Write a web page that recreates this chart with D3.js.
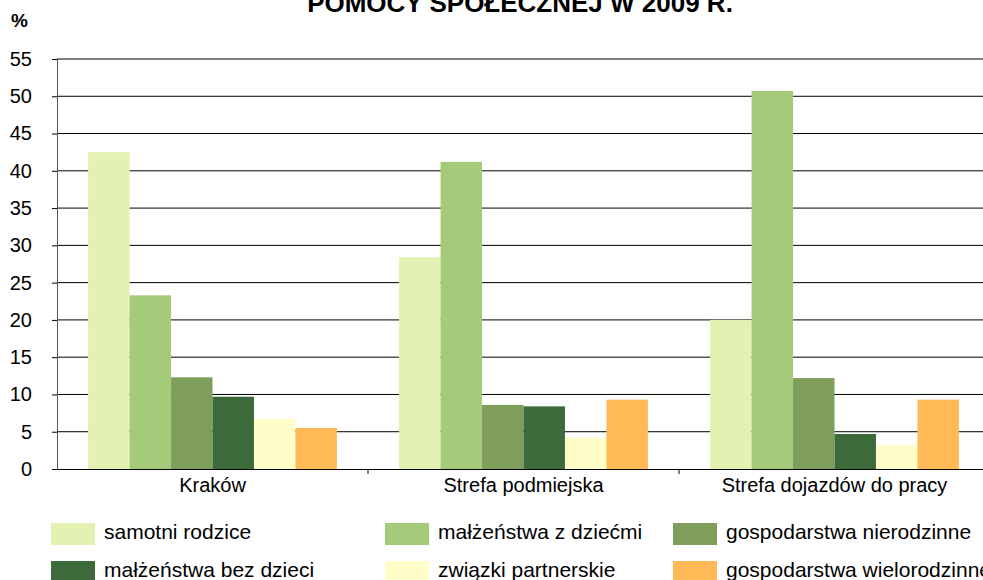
<!DOCTYPE html>
<html>
<head>
<meta charset="utf-8">
<script src="https://cdn.jsdelivr.net/npm/d3@7"></script>
<style>
  body { margin: 0; background: #fff; }
  svg { display: block; font-family: "Liberation Sans", Arial, sans-serif; }
</style>
</head>
<body>
<div id="chart"></div>
<script>
const categories = ["Kraków", "Strefa podmiejska", "Strefa dojazdów do pracy"];
const seriesNames = ["samotni rodzice", "małżeństwa z dziećmi", "gospodarstwa nierodzinne",
  "małżeństwa bez dzieci", "związki partnerskie", "gospodarstwa wielorodzinne"];
const samotniRodzice = [42.5, 28.4, 20.0];
const malzenstwaZDziecmi = [23.3, 41.2, 50.7];
const gospNierodzinne = [12.3, 8.6, 12.2];
const malzenstwaBezDzieci = [9.7, 8.4, 4.7];
const zwiazkiPartnerskie = [6.7, 4.2, 3.2];
const gospWielorodzinne = [5.5, 9.3, 9.3];
const yTicks = [0, 5, 10, 15, 20, 25, 30, 35, 40, 45, 50, 55];
const colors = ["#e3f1b3", "#a4ca7a", "#7f9e5b", "#3d6a3a", "#fffdc8", "#ffb957"];

const series = [samotniRodzice, malzenstwaZDziecmi, gospNierodzinne,
  malzenstwaBezDzieci, zwiazkiPartnerskie, gospWielorodzinne];

const width = 983, height = 580;
const margin = { top: 59, right: -7, bottom: 111, left: 57 };

const svg = d3.select('#chart')
  .append('svg')
  .attr('width', width)
  .attr('height', height);

const x = d3.scaleBand()
  .domain(categories)
  .range([margin.left, width - margin.right]);

const xInner = d3.scaleBand()
  .domain(d3.range(series.length))
  .range([0, x.bandwidth()])
  .paddingOuter(0.75);

const y = d3.scaleLinear()
  .domain([0, 55])
  .range([height - margin.bottom, margin.top]);

// gridlines
svg.append('g')
  .selectAll('line')
  .data(yTicks.filter(d => d > 0))
  .join('line')
  .attr('x1', margin.left)
  .attr('x2', width)
  .attr('y1', d => y(d))
  .attr('y2', d => y(d))
  .attr('stroke', '#000')
  .attr('stroke-width', 1);

// bars
series.forEach((vals, i) => {
  svg.append('g')
    .selectAll('rect')
    .data(vals)
    .join('rect')
    .attr('x', (d, j) => x(categories[j]) + xInner(i))
    .attr('y', d => y(d))
    .attr('width', xInner.bandwidth())
    .attr('height', d => y(0) - y(d))
    .attr('fill', colors[i]);
});

// y axis
const yAxis = svg.append('g')
  .attr('transform', `translate(${margin.left},0)`)
  .call(d3.axisLeft(y).tickValues(yTicks).tickSize(5).tickPadding(20));
yAxis.select('.domain').attr('stroke', '#555');
yAxis.selectAll('.tick line').attr('stroke', '#000');
yAxis.selectAll('text')
  .attr('font-size', 20)
  .attr('font-family', '"Liberation Sans", Arial, sans-serif')
  .attr('fill', '#000');

// x axis
const xAxis = svg.append('g')
  .attr('transform', `translate(0,${y(0)})`)
  .call(d3.axisBottom(x).tickSize(0).tickPadding(9));
xAxis.select('.domain').attr('stroke', '#000');
xAxis.selectAll('text')
  .attr('font-size', 20)
  .attr('font-family', '"Liberation Sans", Arial, sans-serif')
  .attr('fill', '#000');
// category boundary ticks
svg.append('g')
  .selectAll('line')
  .data(categories.slice(1))
  .join('line')
  .attr('x1', d => x(d))
  .attr('x2', d => x(d))
  .attr('y1', y(0))
  .attr('y2', y(0) + 5)
  .attr('stroke', '#000');

// title (second line only visible)
svg.append('text')
  .attr('x', 520)
  .attr('y', 12)
  .attr('text-anchor', 'middle')
  .attr('font-size', 26)
  .attr('font-weight', 'bold')
  .text('POMOCY SPOŁECZNEJ W 2009 R.');

svg.append('text')
  .attr('x', 11)
  .attr('y', 27)
  .attr('font-size', 19)
  .attr('font-weight', 'bold')
  .text('%');

// legend
const legendX = [51, 385, 673];
const legendY = [523, 561];
const legend = svg.append('g')
  .selectAll('g')
  .data(seriesNames)
  .join('g')
  .attr('transform', (d, i) => `translate(${legendX[i % 3]},${legendY[Math.floor(i / 3)]})`);
legend.append('rect')
  .attr('width', 44)
  .attr('height', 22)
  .attr('fill', (d, i) => colors[i]);
legend.append('text')
  .attr('x', 53)
  .attr('y', 16)
  .attr('font-size', 21)
  .text(d => d);
</script>
</body>
</html>
